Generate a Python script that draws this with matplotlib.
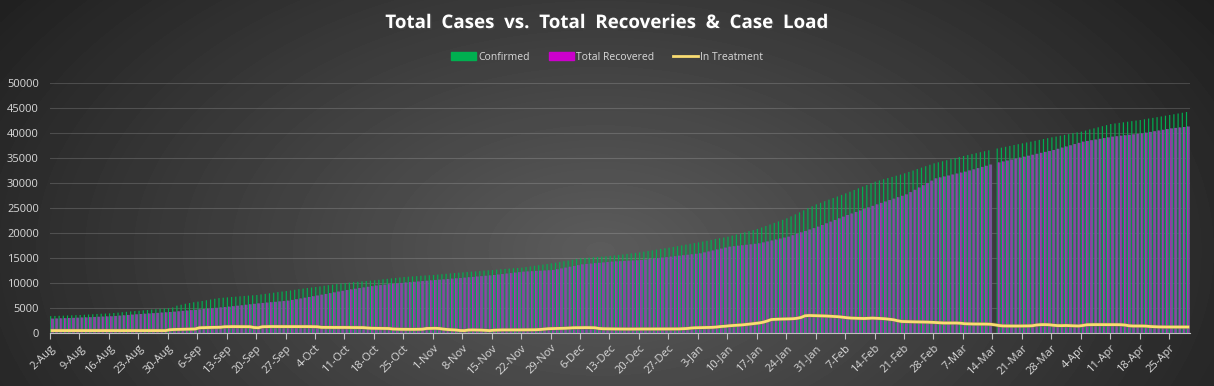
import numpy as np
import pandas as pd
import matplotlib
matplotlib.use('Agg')
import matplotlib.pyplot as plt
import matplotlib.patheffects as pe
from matplotlib.patches import Patch
from matplotlib.lines import Line2D

# daily values, one row per week starting 2-Aug
start_date = '2020-08-02'

confirmed = [
    3380, 3410, 3440, 3470, 3510, 3540, 3570,
    3600, 3650, 3700, 3750, 3800, 3850, 3890,
    3930, 4000, 4080, 4160, 4240, 4320, 4390,
    4450, 4530, 4600, 4680, 4750, 4820, 4890,
    4950, 5100, 5470, 5650, 5850, 6000, 6150,
    6270, 6400, 6550, 6700, 6850, 6980, 7060,
    7130, 7200, 7270, 7340, 7410, 7480, 7540,
    7600, 7720, 7830, 7950, 8060, 8180, 8290,
    8400, 8520, 8640, 8760, 8880, 9000, 9100,
    9200, 9320, 9440, 9560, 9680, 9800, 9900,
    10000, 10080, 10160, 10240, 10320, 10400, 10480,
    10550, 10640, 10740, 10830, 10930, 11020, 11110,
    11200, 11260, 11320, 11380, 11440, 11500, 11550,
    11600, 11680, 11760, 11840, 11920, 12000, 12070,
    12130, 12200, 12270, 12340, 12410, 12480, 12540,
    12600, 12670, 12740, 12810, 12880, 12950, 13010,
    13070, 13190, 13310, 13440, 13560, 13690, 13810,
    13930, 14070, 14210, 14360, 14500, 14640, 14790,
    14930, 15000, 15070, 15140, 15200, 15270, 15340,
    15400, 15500, 15610, 15710, 15820, 15920, 16030,
    16130, 16260, 16400, 16530, 16670, 16800, 16940,
    17070, 17220, 17370, 17520, 17680, 17830, 17980,
    18130, 18290, 18450, 18620, 18780, 18940, 19100,
    19270, 19490, 19710, 19930, 20150, 20370, 20580,
    20800, 21100, 21410, 21710, 22020, 22320, 22630,
    22930, 23330, 23730, 24130, 24530, 24930, 25330,
    25730, 26040, 26360, 26670, 26990, 27300, 27620,
    27930, 28260, 28600, 28930, 29270, 29600, 29940,
    30270, 30510, 30740, 30980, 31220, 31460, 31690,
    31930, 32220, 32500, 32790, 33080, 33360, 33650,
    33930, 34140, 34350, 34560, 34770, 34980, 35190,
    35400, 35590, 35780, 35970, 36160, 36350, 36540,
    0, 36900, 37070, 37240, 37420, 37590, 37760,
    37930, 38100, 38270, 38440, 38620, 38790, 38960,
    39130, 39290, 39460, 39620, 39780, 39950, 40110,
    40270, 40490, 40710, 40930, 41140, 41360, 41580,
    41800, 41910, 42030, 42140, 42260, 42370, 42490,
    42600, 42740, 42890, 43030, 43170, 43310, 43460,
    43600, 43750, 43900, 44050, 44200,
]

recovered = [
    2880, 2910, 2940, 2970, 3000, 3030, 3060,
    3100, 3130, 3170, 3210, 3250, 3280, 3320,
    3350, 3410, 3480, 3540, 3610, 3680, 3740,
    3800, 3860, 3910, 3970, 4030, 4090, 4140,
    4200, 4270, 4350, 4430, 4500, 4580, 4650,
    4730, 4810, 4890, 4960, 5040, 5120, 5190,
    5270, 5360, 5460, 5550, 5650, 5740, 5840,
    5930, 6010, 6090, 6160, 6240, 6320, 6390,
    6470, 6620, 6760, 6910, 7060, 7210, 7350,
    7500, 7660, 7810, 7970, 8130, 8290, 8440,
    8600, 8730, 8860, 8990, 9110, 9240, 9370,
    9500, 9590, 9670, 9760, 9840, 9930, 10010,
    10100, 10170, 10240, 10310, 10390, 10460, 10530,
    10600, 10670, 10730, 10800, 10870, 10940, 11000,
    11070, 11150, 11220, 11300, 11370, 11450, 11520,
    11600, 11700, 11790, 11890, 11980, 12080, 12170,
    12270, 12320, 12360, 12410, 12460, 12500, 12550,
    12600, 12760, 12920, 13080, 13250, 13410, 13570,
    13730, 13810, 13880, 13960, 14040, 14110, 14190,
    14270, 14320, 14360, 14410, 14460, 14500, 14550,
    14600, 14700, 14790, 14890, 14980, 15080, 15170,
    15270, 15360, 15460, 15550, 15650, 15740, 15840,
    15930, 16120, 16310, 16500, 16700, 16890, 17080,
    17270, 17360, 17460, 17550, 17650, 17740, 17840,
    17930, 18120, 18310, 18500, 18700, 18890, 19080,
    19270, 19560, 19840, 20130, 20410, 20700, 20980,
    21270, 21600, 21940, 22270, 22600, 22930, 23270,
    23600, 23900, 24210, 24510, 24820, 25120, 25430,
    25730, 26020, 26300, 26590, 26870, 27160, 27440,
    27730, 28190, 28640, 29100, 29560, 30010, 30470,
    30930, 31120, 31310, 31500, 31700, 31890, 32080,
    32270, 32510, 32740, 32980, 33220, 33450, 33690,
    0, 34120, 34310, 34500, 34700, 34890, 35080,
    35270, 35460, 35650, 35840, 36030, 36220, 36410,
    36600, 36840, 37080, 37310, 37550, 37790, 38030,
    38270, 38410, 38560, 38700, 38840, 38990, 39130,
    39270, 39360, 39460, 39550, 39650, 39740, 39840,
    39930, 40070, 40220, 40360, 40500, 40640, 40790,
    40930, 41020, 41110, 41200, 41300,
]

in_treatment = [
    480, 470, 480, 490, 480, 470, 480,
    480, 490, 480, 470, 480, 490, 480,
    470, 480, 490, 480, 470, 480, 490,
    480, 470, 480, 490, 480, 470, 480,
    650, 700, 720, 740, 760, 780, 800,
    1050, 1080, 1100, 1120, 1130, 1150, 1250,
    1270, 1280, 1270, 1280, 1270, 1260, 1100,
    1050, 1250, 1280, 1290, 1280, 1270, 1280,
    1290, 1280, 1270, 1280, 1290, 1280, 1270,
    1250, 1130, 1120, 1120, 1110, 1120, 1110,
    1100, 1100, 1090, 1080, 1080, 1000, 950,
    930, 920, 910, 900, 800, 760, 740,
    730, 720, 730, 740, 760, 900, 930,
    940, 900, 780, 700, 650, 600, 500,
    480, 600, 620, 600, 580, 520, 480,
    560, 600, 620, 610, 620, 630, 620,
    620, 630, 640, 650, 700, 780, 860,
    880, 900, 920, 950, 1000, 1050, 1060,
    1070, 1080, 1060, 1050, 900, 850, 830,
    820, 810, 800, 800, 790, 800, 810,
    800, 800, 790, 800, 810, 800, 800,
    800, 810, 820, 850, 900, 1000, 1050,
    1070, 1080, 1100, 1130, 1200, 1300, 1350,
    1450, 1500, 1560, 1620, 1700, 1800, 1900,
    2000, 2150, 2400, 2700, 2750, 2780, 2800,
    2800, 2850, 2930, 3100, 3450, 3500, 3480,
    3450, 3420, 3400, 3350, 3300, 3250, 3150,
    3050, 2980, 2950, 2930, 2900, 2950, 2980,
    2950, 2900, 2850, 2750, 2650, 2450, 2300,
    2270, 2250, 2230, 2220, 2200, 2180, 2150,
    2100, 2050, 2000, 2000, 1990, 2000, 1950,
    1850, 1820, 1800, 1800, 1790, 1780, 1750,
    1650, 1500, 1420, 1400, 1400, 1410, 1400,
    1400, 1420, 1450, 1600, 1670, 1680, 1650,
    1550, 1480, 1470, 1500, 1470, 1420, 1400,
    1500, 1650, 1670, 1680, 1670, 1680, 1670,
    1680, 1670, 1660, 1600, 1450, 1400, 1410,
    1400, 1380, 1300, 1250, 1220, 1200, 1200,
    1210, 1200, 1200, 1210, 1200,
]

dates = pd.date_range(start_date, periods=len(confirmed))
labels = [f'{d.day}-{d.strftime("%b")}' for d in dates]
x = np.arange(len(confirmed))

txt = '#d9d9d9'
font = 'Open Sans'

fig = plt.figure(figsize=(12.14, 3.86), dpi=100)

# dark radial background
bg = fig.add_axes([0, 0, 1, 1], zorder=-10)
yy, xx = np.mgrid[0:386, 0:1214]
r = np.sqrt(((xx - 600) / 720.0) ** 2 + ((yy - 250) / 430.0) ** 2)
shade = np.clip(0.36 - 0.23 * r, 0.12, 0.36)
bg.imshow(shade, cmap='gray', vmin=0, vmax=1, aspect='auto')
bg.axis('off')

ax = fig.add_axes([50 / 1214, 1 - 333 / 386, 1140 / 1214, 250 / 386])
ax.patch.set_alpha(0)

# thin green / magenta columns; no pixel snapping so they blend evenly
ax.bar(x - 0.33, confirmed, width=0.28, color='#00b050', linewidth=0, snap=False)
ax.bar(x + 0.14, recovered, width=0.62, color='#6c5d94', linewidth=0, snap=False)
ax.bar(x - 0.08, recovered, width=0.2, color='#c020c0', linewidth=0, snap=False)
ax.plot(x, in_treatment, color='#f9dc72', lw=2,
        path_effects=[pe.Stroke(linewidth=3, foreground='#8a7a3a', alpha=0.4), pe.Normal()])

ax.set_xlim(-0.5, len(x) - 0.5)
ax.set_ylim(0, 50000)
ax.set_yticks(range(0, 50001, 5000))
ax.yaxis.grid(True, color='white', alpha=0.16, lw=0.8)
ax.set_axisbelow(True)

ticks = np.arange(0, len(x), 7)
ax.set_xticks(ticks - 0.5)
ax.set_xticklabels([labels[i] for i in ticks], rotation=45, ha='right',
                   rotation_mode='anchor', fontsize=8, color=txt, family=font)
ax.tick_params(axis='x', direction='out', length=4, color='#bfbfbf', pad=3)
ax.tick_params(axis='y', length=0, pad=8, labelsize=8, labelcolor=txt)
for t in ax.get_yticklabels():
    t.set_family(font)

for s in ['top', 'right', 'left']:
    ax.spines[s].set_visible(False)
ax.spines['bottom'].set_color('#bfbfbf')

fig.text(0.5, 1 - 23 / 386, 'Total  Cases  vs.  Total  Recoveries  &  Case  Load',
         ha='center', va='center', fontsize=13.5, fontweight='bold', color='white',
         family=font, path_effects=[pe.withSimplePatchShadow(offset=(1, -1), alpha=0.6)])

handles = [Patch(color='#00b050'), Patch(color='#cc00cc'),
           Line2D([], [], color='#f9dc72', lw=2)]
fig.legend(handles, ['Confirmed', 'Total Recovered', 'In Treatment'],
           loc='center', bbox_to_anchor=(0.5, 1 - 57 / 386), ncol=3, frameon=False,
           prop={'family': font, 'size': 7.5}, labelcolor=txt, handlelength=2.4,
           handleheight=0.8, handletextpad=0.2, columnspacing=1.8)

fig.savefig('out.png', dpi=100)
